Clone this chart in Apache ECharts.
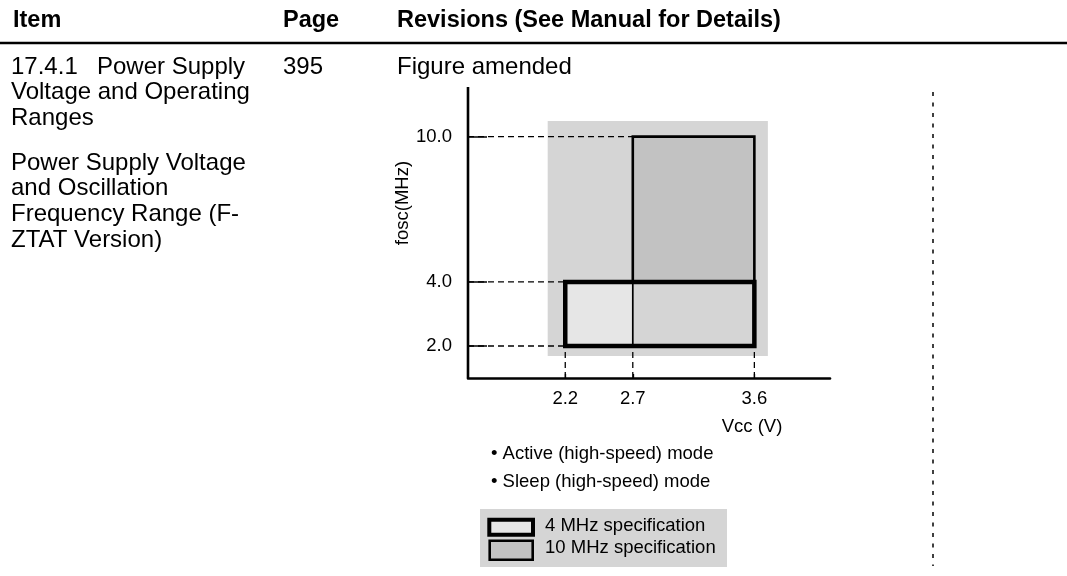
<!DOCTYPE html>
<html><head><meta charset="utf-8">
<script src="https://cdn.jsdelivr.net/npm/echarts@6/dist/echarts.min.js"></script>
<style>html,body{margin:0;padding:0;background:#fff}#c{width:1067px;height:576px}</style>
</head><body><div id="c"></div>
<script>
// ---------- data ----------
const vccTicks = [2.2, 2.7, 3.6];            // Vcc (V) tick values
const foscTicks = [2.0, 4.0, 10.0];          // fosc (MHz) tick values
const spec4MHz = [2.2, 2.0, 3.6, 4.0];       // [vccMin, foscMin, vccMax, foscMax]
const spec10MHz = [2.7, 2.0, 3.6, 10.0];     // [vccMin, foscMin, vccMax, foscMax]
const overlapArea = [2.7, 2.0, 3.6, 4.0];    // both specifications
const shadedArea = [2.07, 1.59, 3.70, 10.65];// shaded backdrop
const guideH = [[10.0, 2.7], [4.0, 2.2], [2.0, 2.2]]; // [fosc, Vcc where guide ends]
const guideV = [[2.2, 2.0], [2.7, 2.0], [3.6, 2.0]];  // [Vcc, fosc where guide ends]
const headers = ['Item', 'Page', 'Revisions (See Manual for Details)'];
const itemText1 = ['Voltage and Operating', 'Ranges'];
const itemText2 = ['Power Supply Voltage', 'and Oscillation', 'Frequency Range (F-', 'ZTAT Version)'];
const modes = ['• Active (high-speed) mode', '• Sleep (high-speed) mode'];
const legendNames = ['4 MHz specification', '10 MHz specification'];

// ---------- layout ----------
const X_MIN = 1.48, X_MAX = 4.16, Y_MIN = 0.678, Y_MAX = 12.05;
const FONT = '"Liberation Sans", Arial, Helvetica, sans-serif';
const C_BG = '#d5d5d5', C_10 = '#c2c2c2', C_4 = '#e6e6e6';

const chart = echarts.init(document.getElementById('c'), null, {renderer: 'canvas'});

function rectRenderer(style) {
  return function (params, api) {
    const p0 = api.coord([api.value(0), api.value(1)]);
    const p1 = api.coord([api.value(2), api.value(3)]);
    return {
      type: 'rect',
      shape: {x: Math.min(p0[0], p1[0]), y: Math.min(p0[1], p1[1]),
              width: Math.abs(p1[0] - p0[0]), height: Math.abs(p1[1] - p0[1])},
      style: style
    };
  };
}
const dashStyle = {color: '#000', width: 1.3, type: [6, 4]};
const series = [];
series.push({type: 'custom', name: 'shade', renderItem: rectRenderer({fill: C_BG}), data: [shadedArea], silent: true});
guideH.forEach(g => series.push({type: 'line', data: [[X_MIN, g[0]], [g[1], g[0]]], symbol: 'none', lineStyle: dashStyle, silent: true}));
guideV.forEach(g => series.push({type: 'line', data: [[g[0], Y_MIN], [g[0], g[1]]], symbol: 'none', lineStyle: dashStyle, silent: true}));
// continuous y axis line (the axis break would otherwise split it)
series.push({type: 'line', data: [[X_MIN, Y_MIN], [X_MIN, Y_MAX]], symbol: 'none', clip: false, silent: true,
  lineStyle: {color: '#000', width: 2.6}, z: 5});
series.push({type: 'custom', name: legendNames[1], renderItem: rectRenderer({fill: C_10, stroke: '#000', lineWidth: 2.6}), data: [spec10MHz]});
series.push({type: 'custom', name: legendNames[0] + ' fill', renderItem: rectRenderer({fill: C_4}), data: [spec4MHz]});
series.push({type: 'custom', name: 'overlap', renderItem: rectRenderer({fill: C_BG, stroke: '#000', lineWidth: 1.7}), data: [overlapArea]});
series.push({type: 'custom', name: legendNames[0], renderItem: rectRenderer({fill: null, stroke: '#000', lineWidth: 4.5}), data: [spec4MHz]});

function txt(x, y, text, opts) {
  return Object.assign({type: 'text', x: x, y: y, style: Object.assign({
    text: text, fill: '#000', font: '24px ' + FONT, textAlign: 'left', textVerticalAlign: 'middle'
  }, opts || {})});
}
const graphics = [];
graphics.push(txt(13, 21, headers[0], {font: 'bold 23.5px ' + FONT}));
graphics.push(txt(283, 21, headers[1], {font: 'bold 23.5px ' + FONT}));
graphics.push(txt(397, 21, headers[2], {font: 'bold 23.5px ' + FONT}));
graphics.push({type: 'line', shape: {x1: 0, y1: 43, x2: 1067, y2: 43}, style: {stroke: '#000', lineWidth: 2.5}});
graphics.push(txt(11, 67, '17.4.1'));
graphics.push(txt(97, 67, 'Power Supply'));
itemText1.forEach((t, i) => graphics.push(txt(11, 92.5 + i * 25.7, t)));
itemText2.forEach((t, i) => graphics.push(txt(11, 163 + i * 25.8, t)));
graphics.push(txt(283, 67, '395'));
graphics.push(txt(397, 67, 'Figure amended'));
graphics.push({type: 'line', shape: {x1: 933, y1: 92, x2: 933, y2: 566}, style: {stroke: '#000', lineWidth: 1.5, lineDash: [4, 6.5]}});
// axis titles
graphics.push({type: 'text', x: 403, y: 203, rotation: Math.PI / 2, style: {text: 'fosc(MHz)', fill: '#000', font: '18.5px ' + FONT, textAlign: 'center', textVerticalAlign: 'middle'}});
graphics.push(txt(752, 427, 'Vcc (V)', {font: '18.5px ' + FONT, textAlign: 'center'}));
modes.forEach((t, i) => graphics.push(txt(491, 453.5 + i * 28, t, {font: '18.5px ' + FONT})));
// legend
graphics.push({type: 'rect', shape: {x: 480, y: 509, width: 247, height: 58}, style: {fill: C_BG}});
graphics.push({type: 'rect', shape: {x: 489.3, y: 519.7, width: 43.7, height: 15}, style: {fill: C_4, stroke: '#000', lineWidth: 4}});
graphics.push({type: 'rect', shape: {x: 489.7, y: 540.7, width: 43, height: 19}, style: {fill: C_10, stroke: '#000', lineWidth: 2.6}});
legendNames.forEach((t, i) => graphics.push(txt(545, 526 + i * 22, t, {font: '18.5px ' + FONT})));

chart.setOption({
  animation: false,
  backgroundColor: '#fff',
  grid: {left: 468, top: 87, width: 362, height: 291, containLabel: false},
  xAxis: {
    type: 'value', min: X_MIN, max: X_MAX,
    axisLine: {show: true, onZero: false, lineStyle: {color: '#000', width: 2.6}},
    axisTick: {show: true, inside: true, length: 4, customValues: vccTicks, lineStyle: {color: '#000', width: 1.3}},
    axisLabel: {show: true, customValues: vccTicks, margin: 11, color: '#000', fontSize: 18.5, fontFamily: FONT, formatter: v => v.toFixed(1)},
    splitLine: {show: false}
  },
  yAxis: {
    type: 'value', min: Y_MIN, max: Y_MAX,
    breaks: [{start: 2.0, end: 4.0, gap: 2.645}],
    breakArea: {show: false},
    axisLine: {show: false, onZero: false, lineStyle: {color: '#000', width: 2.6}},
    axisTick: {show: true, inside: true, length: 19, customValues: foscTicks, lineStyle: {color: '#000', width: 1.5}},
    axisLabel: {show: true, customValues: foscTicks, margin: 16, color: '#000', fontSize: 18.5, fontFamily: FONT, formatter: v => v.toFixed(1)},
    splitLine: {show: false}
  },
  series: series,
  graphic: {elements: graphics}
});
</script></body></html>
